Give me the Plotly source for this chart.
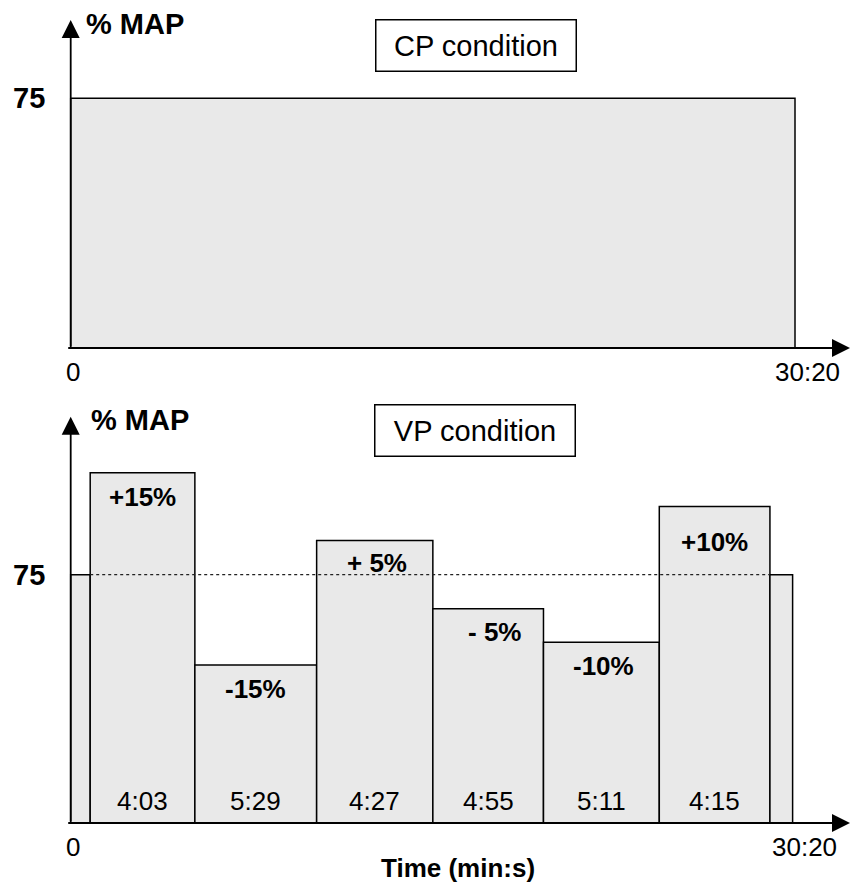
import plotly.graph_objects as go

# ---------------- data ----------------
# Top panel: CP condition, constant power over the whole ride
cp_edges = [0, 1820]            # segment edges, s (0 .. 30:20)
cp_levels = [75]                # % MAP

# Bottom panel: VP condition, segment edges as drawn (s) and heights (% MAP, schematic)
vp_edges = [0, 49, 312, 618, 910, 1188, 1479, 1757, 1814]
vp_levels = [75, 105.8, 47.7, 85.3, 64.7, 54.6, 95.6, 75]
vp_change_labels = ["", "+15%", "-15%", "+ 5%", "- 5%", "-10%", "+10%", ""]
vp_duration_labels = ["", "4:03", "5:29", "4:27", "4:55", "5:11", "4:15", ""]

x_tick_vals = [0, 1820]
x_tick_text = ["0", "30:20"]
y_tick_val = 75
y_tick_text = "75"

# ---------------- style / layout ----------------
W, H = 853, 891
FONT = "Liberation Sans, Arial, sans-serif"
FILL = "#e9e9e9"
EDGE = "black"
change_label_yshift = [0, -24, -24, -22, -23, -24, -35, 0]
change_label_xshift = [0, 0, 0, 2, 6, 2, 0, 0]

# x axis: pixel = X0 + s * K
X0 = 70.7
K = (795 - X0) / 1820
x_range = [-X0 / K, (W - X0) / K]


def y_range(dom, px_zero, ppu):
    top_px = H * (1 - dom[1])
    bot_px = H * (1 - dom[0])
    return [-(bot_px - px_zero) / ppu, (px_zero - top_px) / ppu]


top_dom = [0.545, 1.0]
bot_dom = [0.0, 0.545]
top_ppu = (348 - 98.3) / 75
bot_ppu = (823 - 574.7) / 75
top_range = y_range(top_dom, 348, top_ppu)
bot_range = y_range(bot_dom, 823, bot_ppu)
top_tip = (348 - 20) / top_ppu
bot_tip = (823 - 416.7) / bot_ppu
x_tip = (850 - X0) / K


def centers_widths(edges):
    c = [(a + b) / 2 for a, b in zip(edges[:-1], edges[1:])]
    w = [b - a for a, b in zip(edges[:-1], edges[1:])]
    return c, w


cp_c, cp_w = centers_widths(cp_edges)
vp_c, vp_w = centers_widths(vp_edges)

fig = go.Figure()
fig.add_trace(go.Bar(x=cp_c, y=cp_levels, width=cp_w, xaxis="x", yaxis="y",
                     marker=dict(color=FILL, line=dict(color=EDGE, width=1.5)),
                     hoverinfo="skip", showlegend=False))
fig.add_trace(go.Bar(x=vp_c, y=vp_levels, width=vp_w, xaxis="x", yaxis="y2",
                     marker=dict(color=FILL, line=dict(color=EDGE, width=1.5)),
                     hoverinfo="skip", showlegend=False))

ann = []
shapes = []

# axes drawn as arrows
ARROW = dict(text="", showarrow=True, arrowhead=2, arrowsize=2.0, arrowwidth=1.8, arrowcolor="black")
for yref, tip in (("y", top_tip), ("y2", bot_tip)):
    ann.append(dict(x=0, y=tip, ax=0, ay=0, xref="x", yref=yref, axref="x", ayref=yref, **ARROW))
    ann.append(dict(x=x_tip, y=0, ax=-10, ay=0, xref="x", yref=yref, axref="x", ayref=yref, **ARROW))

# tick labels
for yref, end_shift in (("y", 12), ("y2", 9)):
    ann.append(dict(x=x_tick_vals[0], y=0, xref="x", yref=yref, text=x_tick_text[0],
                    showarrow=False, xanchor="center", yanchor="middle", xshift=2, yshift=-24,
                    font=dict(family=FONT, size=26, color="black")))
    ann.append(dict(x=x_tick_vals[1], y=0, xref="x", yref=yref, text=x_tick_text[1],
                    showarrow=False, xanchor="center", yanchor="middle", xshift=end_shift,
                    yshift=-24, font=dict(family=FONT, size=26, color="black")))
    ann.append(dict(x=29 / W, y=y_tick_val, xref="paper", yref=yref, text="<b>" + y_tick_text + "</b>",
                    showarrow=False, xanchor="center", yanchor="middle",
                    font=dict(family=FONT, size=29, color="black")))

# "% MAP" axis titles
for px, py in ((135, 24), (140, 420)):
    ann.append(dict(x=px / W, y=1 - py / H, xref="paper", yref="paper", text="<b>% MAP</b>",
                    showarrow=False, xanchor="center", yanchor="middle",
                    font=dict(family=FONT, size=29, color="black")))

# condition boxes
for txt, px, py in (("CP condition", 476.3, 46), ("VP condition", 475.5, 430)):
    ann.append(dict(x=px / W, y=1 - py / H, xref="paper", yref="paper", text=txt,
                    showarrow=False, xanchor="center", yanchor="middle",
                    width=183, height=34, borderpad=8, bordercolor="black", borderwidth=1.5,
                    bgcolor="white", font=dict(family=FONT, size=29, color="black")))

# x title
ann.append(dict(x=458 / W, y=1 - 868 / H, xref="paper", yref="paper", text="<b>Time (min:s)</b>",
                showarrow=False, xanchor="center", yanchor="middle",
                font=dict(family=FONT, size=26, color="black")))

# bar labels
for c, lvl, lab, dur, ys, xs in zip(vp_c, vp_levels, vp_change_labels, vp_duration_labels,
                                    change_label_yshift, change_label_xshift):
    if lab:
        ann.append(dict(x=c, y=lvl, xref="x", yref="y2", text="<b>" + lab + "</b>",
                        showarrow=False, xanchor="center", yanchor="middle", yshift=ys, xshift=xs,
                        font=dict(family=FONT, size=26, color="black")))
    if dur:
        ann.append(dict(x=c, y=0, xref="x", yref="y2", text=dur,
                        showarrow=False, xanchor="center", yanchor="middle", yshift=22,
                        font=dict(family=FONT, size=26, color="black")))

# dotted 75 % MAP reference line across the varied segments
shapes.append(dict(type="line", xref="x", yref="y2", x0=vp_edges[1], x1=vp_edges[-2],
                   y0=y_tick_val, y1=y_tick_val, layer="above",
                   line=dict(color="#222222", width=1.2, dash="dot")))

fig.update_layout(
    width=W, height=H, autosize=False,
    margin=dict(l=0, r=0, t=0, b=0),
    paper_bgcolor="white", plot_bgcolor="white",
    barmode="overlay",
    xaxis=dict(domain=[0, 1], range=x_range, visible=False, fixedrange=True),
    yaxis=dict(domain=top_dom, range=top_range, visible=False, anchor="x", fixedrange=True),
    yaxis2=dict(domain=bot_dom, range=bot_range, visible=False, anchor="x", fixedrange=True),
    annotations=ann, shapes=shapes,
)

fig.write_html("out.html", config={"displayModeBar": False},
               post_script="document.body.style.margin='0';")
